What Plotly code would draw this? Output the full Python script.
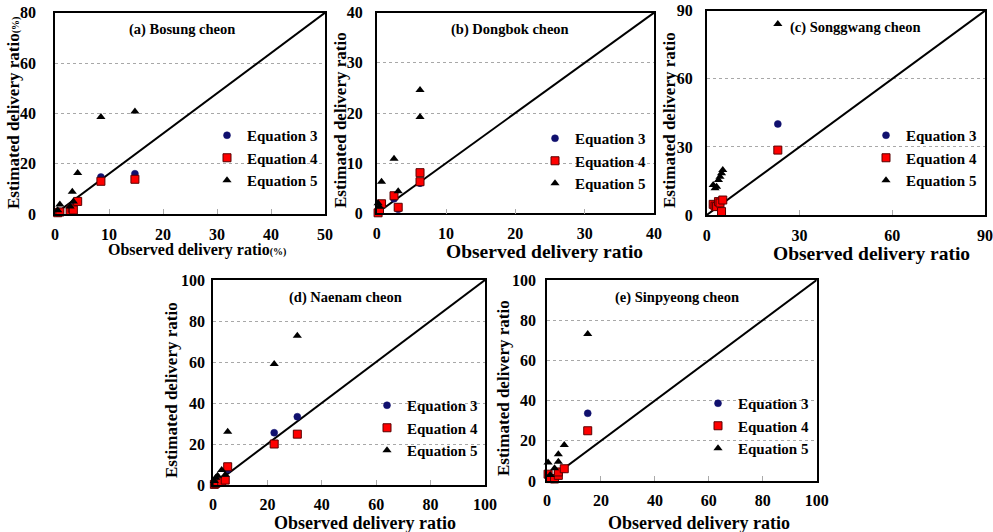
import plotly.graph_objects as go

# ---------------- data ----------------
panel_titles = ["(a) Bosung cheon", "(b) Dongbok cheon", "(c) Songgwang cheon",
                "(d) Naenam cheon", "(e) Sinpyeong cheon"]
series_names = ["Equation 3", "Equation 4", "Equation 5"]
x_axis_max = [50, 40, 90, 100, 100]
y_axis_max = [80, 40, 90, 100, 100]
x_tick_step = [10, 10, 30, 20, 20]
y_tick_step = [20, 10, 30, 20, 20]

obs_a = [0.5, 0.9, 2.8, 3.2, 3.4, 4.2, 8.5, 14.8]
eq3_a = [0.6, 1.0, 1.5, 2.5, 3.0, 5.0, 14.7, 16.0]
eq4_a = [0.5, 0.8, 1.3, 2.3, 1.6, 5.0, 13.0, 13.8]
eq5_a = [1.5, 3.8, 3.0, 8.8, 5.0, 16.3, 38.5, 40.7]

obs_b = [0.2, 0.4, 0.7, 2.5, 3.1, 6.25, 6.25]
eq3_b = [0.2, 0.5, 1.5, 2.9, 0.8, 6.0, 6.1]
eq4_b = [0.1, 0.6, 1.9, 3.5, 1.2, 6.3, 8.1]
eq5_b = [2.0, 1.3, 6.3, 10.9, 4.4, 19.2, 24.6]

obs_c = [2.1, 2.7, 3.2, 3.8, 4.3, 4.8, 5.2, 23.0]
eq3_c = [4.3, 3.5, 3.5, 5.5, 5.0, 1.2, 6.2, 40.1]
eq4_c = [4.7, 3.9, 3.7, 5.9, 5.3, 1.5, 6.6, 28.6]
eq5_c = [13.2, 11.8, 12.5, 15.4, 16.9, 18.4, 19.8, 84.1]

obs_d = [0.5, 1.0, 1.7, 3.2, 4.5, 5.4, 22.5, 31.0]
eq3_d = [0.5, 1.0, 1.5, 2.0, 2.5, 7.5, 25.5, 33.3]
eq4_d = [0.3, 0.8, 1.2, 1.5, 2.4, 8.9, 20.0, 24.8]
eq5_d = [2.0, 3.5, 4.5, 7.3, 5.0, 26.0, 59.0, 72.8]

obs_e = [0.4, 1.2, 2.8, 4.2, 4.2, 6.4, 15.1]
eq3_e = [2.8, 1.0, 1.5, 3.0, 4.0, 6.0, 33.7]
eq4_e = [3.4, 1.2, 1.0, 2.8, 4.5, 6.1, 25.0]
eq5_e = [9.2, 3.0, 6.3, 9.6, 13.3, 17.9, 73.1]

observed = [obs_a, obs_b, obs_c, obs_d, obs_e]
estimates = [[eq3_a, eq4_a, eq5_a], [eq3_b, eq4_b, eq5_b], [eq3_c, eq4_c, eq5_c],
             [eq3_d, eq4_d, eq5_d], [eq3_e, eq4_e, eq5_e]]

y_titles = ['Estimated delivery ratio<span style="font-size:10px">(%)</span>',
            "Estimated delivery ratio", "Estimated delivery ratio",
            "Estimated delivery ratio", "Estimated delivery ratio"]
x_titles = ['Observed delivery ratio<span style="font-size:10px">(%)</span>',
            "Observed delivery ratio", "Observed delivery ratio",
            "Observed delivery ratio", "Observed delivery ratio"]

# ---------------- layout (pixels) ----------------
W, H = 993, 532
boxes = [(55, 325, 12.7, 214), (376.7, 654, 12.7, 213.3), (706.7, 985, 10.7, 215),
         (213, 485, 280, 485), (547, 816.7, 280, 481)]
title_pos = [(182, 29), (510, 30), (855, 28), (345, 297), (677, 297)]
legend_pos = [(207, 119), (535, 122), (866, 119), (367, 389), (698, 387)]
xtitle_pos = [(197, 250), (544, 252), (871, 253), (365, 523), (699, 523)]
xtitle_size = [16, 19.5, 19.5, 18, 18]
ytitle_pos = [(14, 113), (340, 120), (669, 120), (171, 390), (503, 388)]
ylabel_gap = [14, 9, 9, 3, 6]
xlabel_gap = [5, 5, 5, 4, 4]

FONT = "Liberation Serif"
styles = [
    dict(symbol="circle", size=7, color="#10106e", line=dict(width=0.5, color="#10106e")),
    dict(symbol="square", size=8, color="#ff0000", line=dict(width=1, color="#5a0000")),
    dict(symbol="triangle-up", size=8, color="#000000", line=dict(width=0)),
]

fig = go.Figure()
layout = dict(width=W, height=H, margin=dict(l=0, r=0, t=0, b=0),
              paper_bgcolor="white", plot_bgcolor="white",
              font=dict(family=FONT, color="black"), annotations=[])

for i in range(5):
    n = i + 1
    xa = "x" if n == 1 else f"x{n}"
    ya = "y" if n == 1 else f"y{n}"
    lg = "legend" if n == 1 else f"legend{n}"
    x0, x1, yt, yb = boxes[i]
    # reference line, corner to corner of the plot box
    fig.add_trace(go.Scatter(x=[0, x_axis_max[i]], y=[0, y_axis_max[i]],
                             mode="lines", line=dict(color="black", width=2),
                             xaxis=xa, yaxis=ya, showlegend=False, hoverinfo="skip"))
    for k in range(3):
        fig.add_trace(go.Scatter(x=observed[i], y=estimates[i][k], mode="markers",
                                 name=series_names[k], marker=styles[k],
                                 xaxis=xa, yaxis=ya, legend=lg, cliponaxis=False))
    ax_common = dict(showline=True, linecolor="black", linewidth=1.5, mirror=True,
                     zeroline=False, automargin=False,
                     tickfont=dict(family=FONT, size=16, weight="bold", color="black"))
    layout["xaxis" if n == 1 else f"xaxis{n}"] = dict(
        ax_common, domain=[x0 / W, x1 / W], range=[0, x_axis_max[i]],
        anchor=ya, dtick=x_tick_step[i], tick0=0, showgrid=False,
        ticks="inside", ticklen=5, tickcolor="#aaaaaa", tickwidth=1,
        ticklabelstandoff=xlabel_gap[i])
    layout["yaxis" if n == 1 else f"yaxis{n}"] = dict(
        ax_common, domain=[1 - yb / H, 1 - yt / H], range=[0, y_axis_max[i]],
        anchor=xa, dtick=y_tick_step[i], tick0=0, showgrid=True,
        gridcolor="#a8a8a8", griddash="dot", gridwidth=1, ticks="",
        ticklabelstandoff=ylabel_gap[i])
    lx, ly = legend_pos[i]
    layout[lg] = dict(x=lx / W, y=1 - ly / H, xanchor="left", yanchor="top",
                      xref="paper", yref="paper", bgcolor="rgba(0,0,0,0)",
                      font=dict(family=FONT, size=15, weight="bold", color="black"),
                      itemwidth=30, tracegroupgap=0)
    tx, ty = title_pos[i]
    layout["annotations"].append(dict(text=f"<b>{panel_titles[i]}</b>", x=tx / W, y=1 - ty / H,
                                      xref="paper", yref="paper", showarrow=False,
                                      xanchor="center", yanchor="middle",
                                      font=dict(family=FONT, size=14.5, color="black")))
    ax_x, ax_y = xtitle_pos[i]
    layout["annotations"].append(dict(text=f"<b>{x_titles[i]}</b>", x=ax_x / W, y=1 - ax_y / H,
                                      xref="paper", yref="paper", showarrow=False,
                                      xanchor="center", yanchor="middle",
                                      font=dict(family=FONT, size=xtitle_size[i], color="black")))
    ay_x, ay_y = ytitle_pos[i]
    layout["annotations"].append(dict(text=f"<b>{y_titles[i]}</b>", x=ay_x / W, y=1 - ay_y / H,
                                      xref="paper", yref="paper", showarrow=False,
                                      xanchor="center", yanchor="middle", textangle=-90,
                                      font=dict(family=FONT, size=17, color="black")))

fig.update_layout(**layout)
fig.write_html("out.html")
